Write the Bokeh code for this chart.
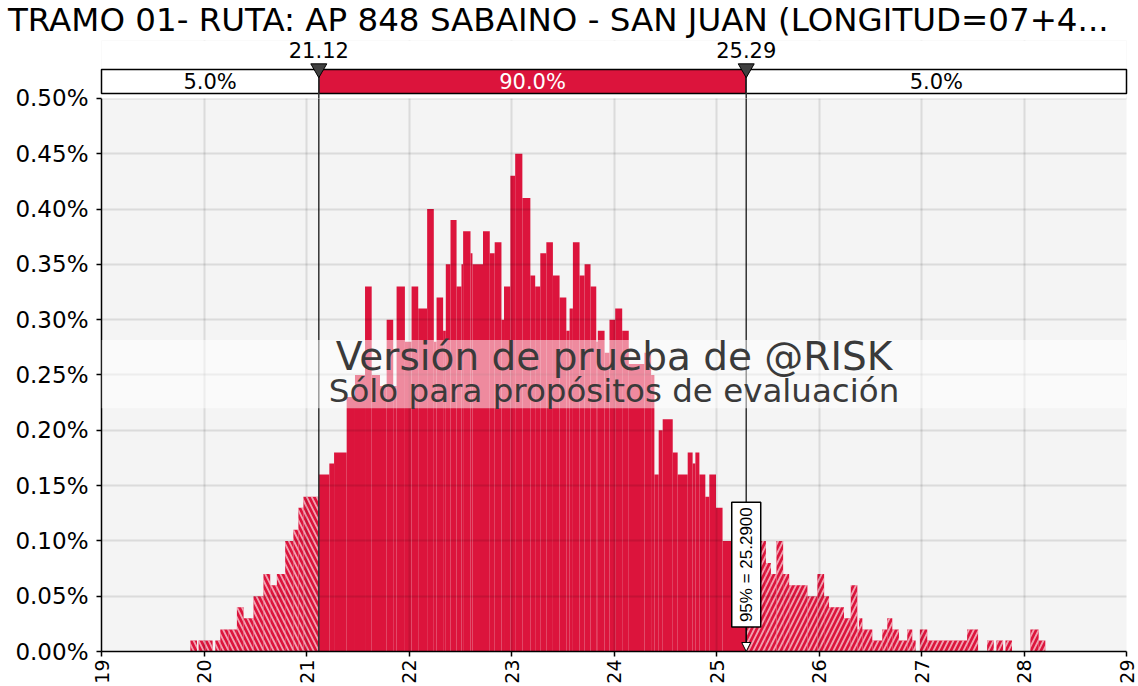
import math
import numpy as np
from bokeh.plotting import figure
from bokeh.layouts import column
from bokeh.models import (Range1d, FixedTicker, PrintfTickFormatter, BoxAnnotation,
                          Label, Arrow, NormalHead, ColumnDataSource, Div)
from bokeh.embed import file_html
from bokeh.resources import INLINE
from bokeh.core.properties import value

# ---------------- data ----------------
title_text = "TRAMO 01- RUTA: AP 848 SABAINO - SAN JUAN (LONGITUD=07+4..."
x_ticks = list(range(19, 30))
y_ticks = [0.00, 0.05, 0.10, 0.15, 0.20, 0.25, 0.30, 0.35, 0.40, 0.45, 0.50]
p05, p95 = 21.12, 25.29
band_labels = ["5.0%", "90.0%", "5.0%"]
wm_line1 = "Versión de prueba de @RISK"
wm_line2 = "Sólo para propósitos de evaluación"
marker_text = "95% = 25.2900"

bin_left = [19.867, 19.947, 20.013, 20.110, 20.159, 20.240, 20.321, 20.386, 20.483, 20.580,
            20.646, 20.711, 20.792, 20.872, 20.921, 20.970,
            21.120, 21.223, 21.269, 21.392, 21.473, 21.571, 21.636, 21.717, 21.782, 21.846,
            21.879, 21.960, 22.025, 22.090, 22.177, 22.242, 22.269, 22.333, 22.359, 22.405,
            22.464, 22.512, 22.528, 22.600, 22.619, 22.722, 22.788, 22.836, 22.902, 22.927,
            22.989, 23.036, 23.106, 23.184, 23.231, 23.281, 23.340, 23.404, 23.469, 23.535,
            23.567, 23.599, 23.664, 23.713, 23.771, 23.827, 23.842, 23.908, 23.956, 24.012,
            24.080, 24.144, 24.297, 24.362, 24.394, 24.436, 24.475, 24.573, 24.621, 24.719,
            24.767, 24.794, 24.833, 24.891, 24.930, 24.995, 25.059,
            25.290, 25.482, 25.531, 25.585, 25.650, 25.709, 25.887, 25.984, 26.050, 26.098,
            26.244, 26.310, 26.374, 26.390, 26.423, 26.520, 26.617, 26.666, 26.715, 26.780,
            26.861, 26.910, 26.984, 27.056, 27.445, 27.640, 27.731, 27.819, 28.062, 28.143]
bin_right = [19.932, 20.013, 20.084, 20.159, 20.240, 20.321, 20.386, 20.483, 20.580, 20.646,
             20.711, 20.792, 20.872, 20.921, 20.970, 21.120,
             21.223, 21.269, 21.392, 21.473, 21.571, 21.636, 21.717, 21.782, 21.846, 21.879,
             21.960, 22.025, 22.090, 22.177, 22.242, 22.269, 22.333, 22.359, 22.405, 22.464,
             22.512, 22.528, 22.600, 22.619, 22.722, 22.788, 22.836, 22.902, 22.927, 22.989,
             23.036, 23.106, 23.184, 23.231, 23.281, 23.340, 23.404, 23.469, 23.535, 23.567,
             23.599, 23.664, 23.713, 23.771, 23.827, 23.842, 23.908, 23.956, 24.012, 24.080,
             24.144, 24.297, 24.362, 24.394, 24.436, 24.475, 24.573, 24.621, 24.719, 24.767,
             24.794, 24.833, 24.891, 24.930, 24.995, 25.059, 25.290,
             25.482, 25.531, 25.585, 25.650, 25.709, 25.887, 25.984, 26.050, 26.098, 26.244,
             26.310, 26.374, 26.390, 26.423, 26.520, 26.617, 26.666, 26.715, 26.780, 26.861,
             26.910, 26.943, 27.056, 27.445, 27.552, 27.705, 27.796, 27.883, 28.143, 28.208]
freq_pct = [0.01, 0.01, 0.01, 0.01, 0.02, 0.02, 0.04, 0.03, 0.05, 0.07,
            0.06, 0.07, 0.10, 0.11, 0.13, 0.14,
            0.16, 0.17, 0.18, 0.23, 0.25, 0.33, 0.25, 0.24, 0.30, 0.24,
            0.33, 0.28, 0.33, 0.31, 0.40, 0.28, 0.32, 0.29, 0.35, 0.39,
            0.33, 0.35, 0.38, 0.36, 0.35, 0.38, 0.36, 0.37, 0.30, 0.33,
            0.43, 0.45, 0.41, 0.34, 0.33, 0.36, 0.37, 0.34, 0.32, 0.29,
            0.31, 0.37, 0.34, 0.35, 0.33, 0.28, 0.29, 0.27, 0.30, 0.31,
            0.29, 0.26, 0.27, 0.25, 0.16, 0.20, 0.21, 0.18, 0.16, 0.18,
            0.17, 0.18, 0.16, 0.14, 0.16, 0.13, 0.10,
            0.10, 0.08, 0.07, 0.10, 0.07, 0.06, 0.05, 0.07, 0.05, 0.04,
            0.03, 0.06, 0.02, 0.03, 0.02, 0.01, 0.02, 0.03, 0.02, 0.01,
            0.02, 0.01, 0.02, 0.01, 0.02, 0.01, 0.01, 0.01, 0.02, 0.01]

# ---------------- layout constants ----------------
RED = "#DC143C"
FONT = "DejaVu Sans"
X0, X1 = 19, 29
Y_MAX = 0.5
FIG_W, PAGE_H = 1138, 686
LEFT_B, RIGHT_B, BOTTOM_B = 101, 12, 34
TITLE_H = 40
FRAME_TOP_Y = 98                                  # window y of the 0.50% line
FRAME_BOT_Y = PAGE_H - BOTTOM_B                   # window y of the 0.00% line
PX_PER_PCT = (FRAME_BOT_Y - FRAME_TOP_Y) / Y_MAX
Y_TOP = Y_MAX + (FRAME_TOP_Y - TITLE_H) / PX_PER_PCT

def wy(win_y):
    """window pixel row -> y value (for the decorations above the plot area)"""
    return Y_MAX + (FRAME_TOP_Y - win_y) / PX_PER_PCT

left = np.array(bin_left)
right = np.array(bin_right)
top = np.array(freq_pct)
m_left = right <= p05 + 1e-9
m_right = left >= p95 - 1e-9
m_mid = ~(m_left | m_right)

def src(mask):
    return ColumnDataSource(dict(left=left[mask], right=right[mask], top=top[mask],
                                 bottom=np.zeros(mask.sum())))

# ---------------- title ----------------
title = Div(text=title_text, width=FIG_W, height=TITLE_H,
            styles={"font-family": "DejaVu Sans", "font-size": "32.5px",
                    "line-height": f"{TITLE_H}px", "padding-left": "8px",
                    "white-space": "nowrap", "color": "black", "overflow": "hidden",
                    "margin": "0px", "box-sizing": "border-box"})

# ---------------- main figure ----------------
p = figure(width=FIG_W, height=PAGE_H - TITLE_H, x_range=Range1d(X0, X1),
           y_range=Range1d(0, Y_TOP), output_backend="svg", toolbar_location=None,
           min_border_left=LEFT_B, min_border_right=RIGHT_B, min_border_top=0,
           min_border_bottom=BOTTOM_B)
p.background_fill_color = "#F4F4F4"
p.border_fill_color = "white"
p.outline_line_color = None

p.quad(left="left", right="right", top="top", bottom="bottom", source=src(m_mid),
       fill_color=RED, line_color=None)
p.quad(left="left", right="right", top="top", bottom="bottom", source=src(m_left),
       fill_color=RED, line_color=None, hatch_pattern="left_diagonal_line",
       hatch_color="white", hatch_alpha=0.6, hatch_scale=10, hatch_weight=1.8)
p.quad(left="left", right="right", top="top", bottom="bottom", source=src(m_right),
       fill_color=RED, line_color=None, hatch_pattern="right_diagonal_line",
       hatch_color="white", hatch_alpha=0.6, hatch_scale=10, hatch_weight=1.8)

# percentile lines through the plot area (under the annotations)
p.segment(x0=[p05, p95], y0=[0, 0], x1=[p05, p95], y1=[Y_MAX, Y_MAX],
          line_color="#333333", line_width=1.5)

for g in (p.xgrid[0], p.ygrid[0]):
    g.level = "annotation"
    g.grid_line_color = "black"
    g.grid_line_alpha = 0.1
    g.grid_line_width = 2
p.xgrid.ticker = FixedTicker(ticks=x_ticks)
p.ygrid.ticker = FixedTicker(ticks=y_ticks)

p.xaxis.ticker = FixedTicker(ticks=x_ticks)
p.yaxis.ticker = FixedTicker(ticks=y_ticks)
p.yaxis.bounds = (0, Y_MAX)
p.yaxis.formatter = PrintfTickFormatter(format="%.2f%%")
p.xaxis.major_label_orientation = math.pi / 2
for ax in (p.xaxis[0], p.yaxis[0]):
    ax.axis_line_color = "black"
    ax.axis_line_width = 1.5
    ax.major_tick_line_color = "black"
    ax.major_tick_line_width = 1.5
    ax.major_tick_in = 0
    ax.major_tick_out = 5
    ax.minor_tick_line_color = None
    ax.major_label_text_font = FONT
    ax.major_label_text_color = "black"
p.yaxis.major_label_text_font_size = "23px"
p.xaxis.major_label_text_font_size = "19px"
p.xaxis.major_label_standoff = 3
p.yaxis.major_label_standoff = 8

# watermark band
p.add_layout(BoxAnnotation(bottom=0.220, top=0.2815, fill_color="white", fill_alpha=0.5,
                           line_color=None))
p.add_layout(Label(x=24.0, y=0.2665, text=wm_line1, text_align="center",
                   text_baseline="middle", text_font=FONT, text_font_size="39px",
                   text_color="#3a3a3a"))
p.add_layout(Label(x=24.0, y=0.2355, text=wm_line2, text_align="center",
                   text_baseline="middle", text_font=FONT, text_font_size="32.5px",
                   text_color="#3a3a3a"))

# white area above the plot area (hides background and grid there)
p.add_layout(BoxAnnotation(bottom=Y_MAX, fill_color="white", fill_alpha=1.0, line_color=None))

# 95% marker
p.add_layout(Arrow(end=NormalHead(size=9, fill_color="white", line_color="black", line_width=1),
                   x_start=p95, y_start=0.0225, x_end=p95, y_end=0.0,
                   line_color="black", line_width=1.2))
p.add_layout(Label(x=p95, y=0.0785, text=marker_text, angle=math.pi / 2,
                   text_align="center", text_baseline="middle",
                   text_font="Liberation Sans", text_font_size="17px",
                   text_color="black", background_fill_color="white",
                   border_line_color="black", border_line_width=1.5, padding=5))

# ---------------- percentile band above the plot ----------------
band_top, band_bot = wy(69), wy(93)
overlay = []
overlay.append(p.quad(left=[X0, p05, p95], right=[p05, p95, X1], top=[band_top] * 3,
                      bottom=[band_bot] * 3, fill_color=["white", RED, "white"],
                      line_color="black", line_width=1.5))
overlay.append(p.segment(x0=[p05, p95], y0=[Y_MAX, Y_MAX], x1=[p05, p95],
                         y1=[band_top, band_top], line_color="#333333", line_width=1.5))
overlay.append(p.text(x=[(X0 + p05) / 2, (p05 + p95) / 2, (p95 + X1) / 2],
                      y=[wy(81.5)] * 3, text=band_labels,
                      text_color=["black", "white", "black"], text_font=value(FONT),
                      text_font_size="21px", text_align="center", text_baseline="middle"))
overlay.append(p.scatter(x=[p05, p95], y=[wy(68)] * 2, marker="inverted_triangle", size=16,
                         fill_color="#404040", line_color="black", line_width=1))
overlay.append(p.text(x=[p05, p95], y=[wy(50)] * 2, text=[f"{p05:.2f}", f"{p95:.2f}"],
                      text_font=value(FONT), text_font_size="21px", text_align="center",
                      text_baseline="middle", text_color="black"))
for r in overlay:
    r.level = "overlay"

layout = column(title, p, spacing=0)
open("out.html", "w").write(file_html(layout, INLINE))
